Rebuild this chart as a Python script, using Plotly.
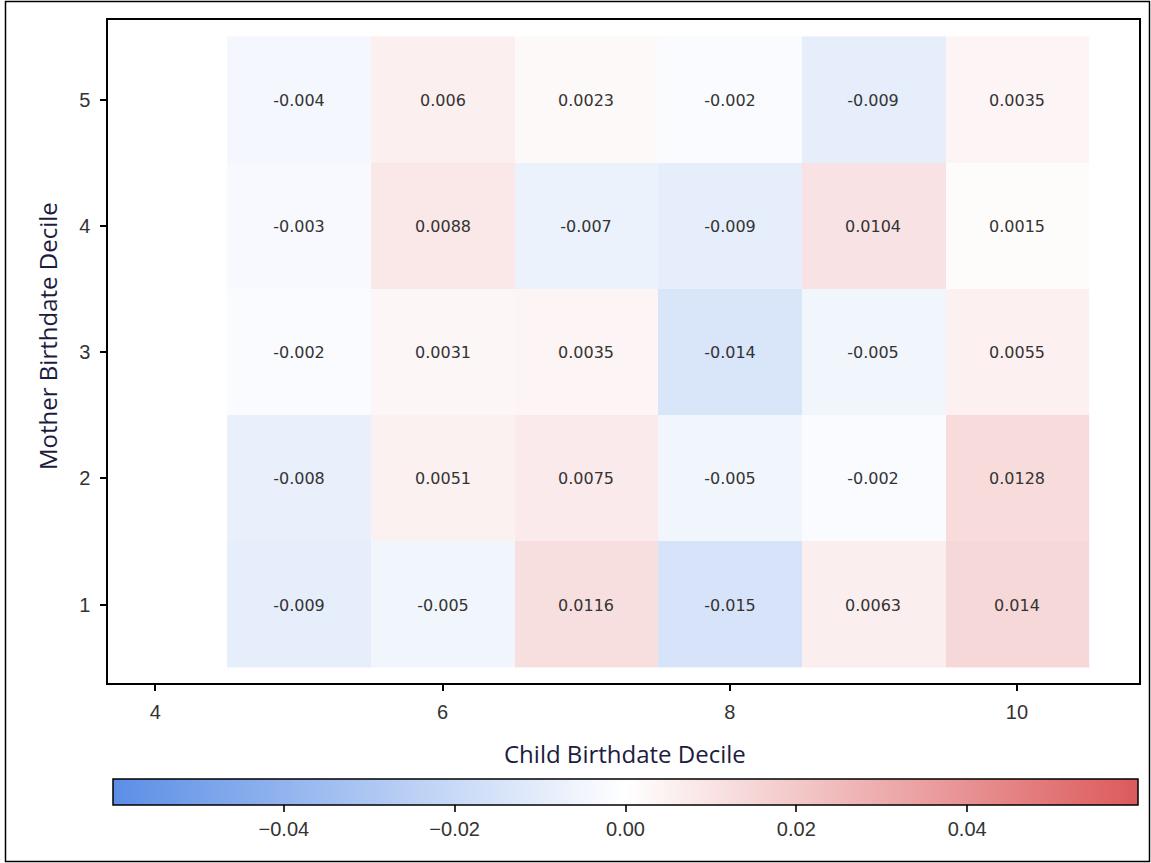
import plotly.graph_objects as go

# Deciles on each axis
child_deciles = [5, 6, 7, 8, 9, 10]
mother_deciles = [1, 2, 3, 4, 5]

# Cell values, one row per mother decile (1..5), columns follow child deciles
row_m1 = [-0.009, -0.005, 0.0116, -0.015, 0.0063, 0.014]
row_m2 = [-0.008, 0.0051, 0.0075, -0.005, -0.002, 0.0128]
row_m3 = [-0.002, 0.0031, 0.0035, -0.014, -0.005, 0.0055]
row_m4 = [-0.003, 0.0088, -0.007, -0.009, 0.0104, 0.0015]
row_m5 = [-0.004, 0.006, 0.0023, -0.002, -0.009, 0.0035]

colorbar_ticks = [-0.04, -0.02, 0.0, 0.02, 0.04]

z = [row_m1, row_m2, row_m3, row_m4, row_m5]
text = [[str(v) for v in row] for row in z]

W, H = 1151, 863
L, R, T, B = 108, 1139, 20, 683
pw, ph = R - L, B - T

def px_x(p):
    return (p - L) / pw

def px_y(p):
    return (B - p) / ph

tick_font = dict(family="Liberation Sans, Arial, sans-serif", size=20, color="#333333")
title_font = dict(family="Open Sans, sans-serif", size=24, color="#1c1c40")

fig = go.Figure()
fig.add_trace(go.Heatmap(
    x=child_deciles,
    y=mother_deciles,
    z=z,
    text=text,
    texttemplate="%{text}",
    textfont=dict(family="DejaVu Sans, sans-serif", size=16, color="#333333"),
    zmin=-0.06, zmax=0.06,
    colorscale=[[0.0, "#5b8ee6"], [0.5, "#ffffff"], [1.0, "#dc5a5c"]],
    xgap=0, ygap=0,
    colorbar=dict(
        orientation="h",
        lenmode="pixels", len=1025,
        thickness=26, thicknessmode="pixels",
        x=px_x(625.5), xanchor="center",
        y=px_y(779), yanchor="top", ypad=0, xpad=0,
        outlinecolor="#000000", outlinewidth=1.5,
        tickvals=colorbar_ticks,
        tickformat=".2f",
        ticks="outside", ticklen=7, tickwidth=1.5, tickcolor="#333333",
        tickfont=tick_font,
    ),
))

axis_common = dict(
    showline=True, linecolor="#000000", linewidth=1.5, mirror=True,
    ticks="outside", ticklen=6, tickwidth=1.5, tickcolor="#000000",
    showgrid=False, zeroline=False,
    tickfont=tick_font,
)

fig.update_layout(
    width=W, height=H,
    margin=dict(l=L, r=W - R, t=T, b=H - B, autoexpand=False),
    paper_bgcolor="#ffffff", plot_bgcolor="#ffffff",
    xaxis=dict(range=[3.67, 10.85], tickvals=[4, 6, 8, 10],
               ticklabelstandoff=4, **axis_common),
    yaxis=dict(range=[0.38, 5.63], tickvals=[1, 2, 3, 4, 5],
               ticklabelstandoff=6, **axis_common),
    annotations=[
        dict(text="Child Birthdate Decile", xref="paper", yref="paper",
             x=px_x(625), y=px_y(753), xanchor="center", yanchor="middle",
             showarrow=False, font=title_font),
        dict(text="Mother Birthdate Decile", xref="paper", yref="paper",
             x=px_x(47), y=px_y(336), xanchor="center", yanchor="middle",
             textangle=-90, showarrow=False, font=title_font),
    ],
    shapes=[dict(
        type="rect", xref="paper", yref="paper",
        x0=px_x(5.5), x1=px_x(1149.5), y0=px_y(861.5), y1=px_y(1.5),
        line=dict(color="#000000", width=1.5), fillcolor="rgba(0,0,0,0)", layer="below",
    )],
)

fig.write_html("out.html")
